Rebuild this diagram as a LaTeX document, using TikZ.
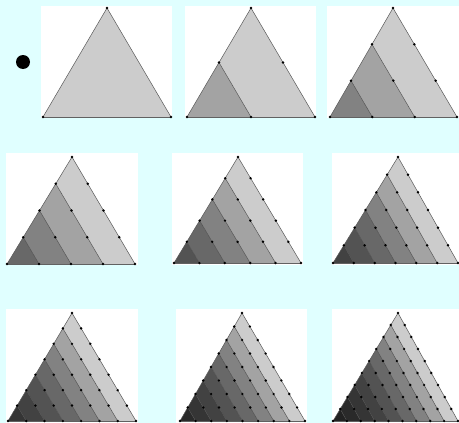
\documentclass[tikz,border=0pt]{standalone}
\definecolor{bgc}{RGB}{224,255,255}
\tikzset{
  panelbg/.style={fill=white},
  stripline/.style={draw=black!70, line width=0.45pt},
  edgeline/.style={draw=black!65, line width=0.5pt},
  baseedge/.style={draw=black!62, line width=1pt},
  latdot/.style={fill=black},
}
% \trpanel{n}{blx}{basey}{brx}{apx}{apy}
\newcommand{\trpanel}[6]{%
  \foreach \i in {1,...,#1}{%
    \pgfmathtruncatemacro\g{204*0.8^(#1-\i)}%
    \definecolor{stripc}{RGB}{\g,\g,\g}%
    \pgfmathsetmacro\pa{#2+(\i-1)/#1*(#4-#2)}%
    \pgfmathsetmacro\pb{#2+\i/#1*(#4-#2)}%
    \pgfmathsetmacro\qax{#2+(\i-1)/#1*(#5-#2)}%
    \pgfmathsetmacro\qay{#3+(\i-1)/#1*(#6-#3)}%
    \pgfmathsetmacro\qbx{#2+\i/#1*(#5-#2)}%
    \pgfmathsetmacro\qby{#3+\i/#1*(#6-#3)}%
    \fill[stripc] (\pa,#3) -- (\pb,#3) -- (\qbx,\qby) -- (\qax,\qay) -- cycle;
  }
  \ifnum#1>1
  \foreach \k in {1,...,\numexpr#1-1\relax}{%
    \pgfmathsetmacro\pb{#2+\k/#1*(#4-#2)}%
    \pgfmathsetmacro\qbx{#2+\k/#1*(#5-#2)}%
    \pgfmathsetmacro\qby{#3+\k/#1*(#6-#3)}%
    \draw[stripline] (\pb,#3) -- (\qbx,\qby);
  }
  \fi
  \draw[edgeline] (#2,#3) -- (#5,#6) -- (#4,#3);
  \draw[baseedge] (#2,#3) -- (#4,#3);
  \foreach \a in {0,...,#1}{%
    \pgfmathtruncatemacro\m{#1-\a}%
    \foreach \b in {0,...,\m}{%
      \pgfmathsetmacro\dx{#2+\a/#1*(#4-#2)+\b/#1*(#5-#2)}%
      \pgfmathsetmacro\dy{#3+\b/#1*(#6-#3)}%
      \fill[latdot] (\dx,\dy) circle (1.35);
    }
  }
}
\begin{document}
\begin{tikzpicture}[x=1pt,y=-1pt]
\fill[bgc] (0,0) rectangle (459,423);
\useasboundingbox (0,0) rectangle (459,423);
% bullet
\fill[black] (23,62) circle (7);
% white panels
\fill[panelbg] (41,6) rectangle (172,118);
\fill[panelbg] (185,6) rectangle (316,118);
\fill[panelbg] (327,6) rectangle (459,118);
\fill[panelbg] (6,153) rectangle (138,265);
\fill[panelbg] (172,153) rectangle (303,265);
\fill[panelbg] (332,153) rectangle (459,265);
\fill[panelbg] (6,309) rectangle (138,423);
\fill[panelbg] (176,309) rectangle (307,423);
\fill[panelbg] (332,309) rectangle (459,423);
% triangles
\trpanel{1}{43}{117}{171}{107}{8}
\trpanel{2}{187}{117}{315}{251}{8}
\trpanel{3}{330}{117}{457}{393}{8}
\trpanel{4}{7}{264}{135}{72}{157}
\trpanel{5}{174}{263}{301}{238}{157}
\trpanel{6}{333}{263}{458}{398}{157}
\trpanel{7}{8}{421}{136}{72}{313}
\trpanel{8}{180}{421}{305}{242}{313}
\trpanel{9}{333}{421}{458}{398}{313}
\end{tikzpicture}
\end{document}
